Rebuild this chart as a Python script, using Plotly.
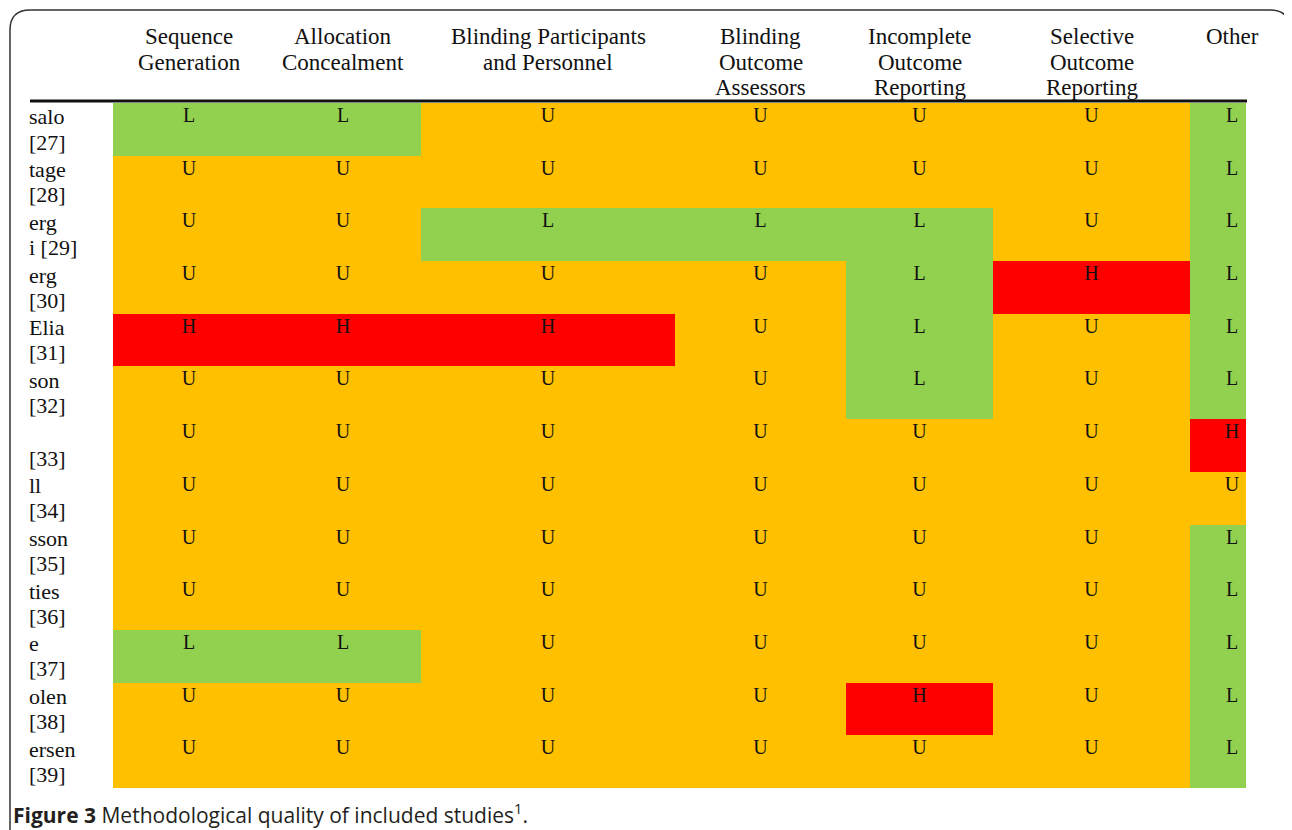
import numpy as np
import plotly.graph_objects as go

# ---- data ----
domains = [["Sequence", "Generation"], ["Allocation", "Concealment"],
           ["Blinding Participants", "and Personnel"],
           ["Blinding", "Outcome", "Assessors"], ["Incomplete", "Outcome", "Reporting"],
           ["Selective", "Outcome", "Reporting"], ["Other"]]
studies = [["salo", "[27]"], ["tage", "[28]"], ["erg", "i [29]"], ["erg", "[30]"], ["Elia", "[31]"],
           ["son", "[32]"], ["", "[33]"], ["ll", "[34]"], ["sson", "[35]"], ["ties", "[36]"],
           ["e", "[37]"], ["olen", "[38]"], ["ersen", "[39]"]]
ratings = [
    ["L", "L", "U", "U", "U", "U", "L"],
    ["U", "U", "U", "U", "U", "U", "L"],
    ["U", "U", "L", "L", "L", "U", "L"],
    ["U", "U", "U", "U", "L", "H", "L"],
    ["H", "H", "H", "U", "L", "U", "L"],
    ["U", "U", "U", "U", "L", "U", "L"],
    ["U", "U", "U", "U", "U", "U", "H"],
    ["U", "U", "U", "U", "U", "U", "U"],
    ["U", "U", "U", "U", "U", "U", "L"],
    ["U", "U", "U", "U", "U", "U", "L"],
    ["L", "L", "U", "U", "U", "U", "L"],
    ["U", "U", "U", "U", "H", "U", "L"],
    ["U", "U", "U", "U", "U", "U", "L"],
]
levels = {"L": 0, "U": 1, "H": 2}

# ---- layout/style ----
W, H = 1292, 830
OFF = 8  # page body margin
col_widths = [152, 156, 254, 171, 147, 197, 84]   # last column is cropped by the visible range
visible_width = 1133
edges = np.concatenate([[0], np.cumsum(col_widths)])
centers = (edges[:-1] + edges[1:]) / 2
green, orange, red = "#92D050", "#FFC000", "#FF0000"
x0_px, x1_px, y0_px, y1_px = 113, 1246, 103, 788
serif = "Liberation Serif"

px = lambda v: (v - OFF) / W
py = lambda v: 1 - (v - OFF) / H

z = [[levels[v] for v in row] for row in ratings]
nrows = len(studies)
row_h = (y1_px - y0_px) / nrows

fig = go.Figure()
fig.add_trace(go.Heatmap(
    z=z, x=edges, y=np.arange(nrows),
    colorscale=[[0, green], [1/3, green], [1/3, orange], [2/3, orange], [2/3, red], [1, red]],
    zmin=-0.5, zmax=2.5, showscale=False, hoverinfo="skip"))

tx, ty, tt = [], [], []
for i, row in enumerate(ratings):
    for j, v in enumerate(row):
        tx.append(centers[j]); ty.append(i - 0.5 + 14 / row_h); tt.append(v)
fig.add_trace(go.Scatter(x=tx, y=ty, text=tt, mode="text",
                         textfont=dict(family=serif, size=20, color="#111"),
                         hoverinfo="skip", showlegend=False, cliponaxis=False))

ann = []
for j, d in enumerate(domains):
    for k, line in enumerate(d):
        ann.append(dict(x=centers[j], xref="x", y=py(37 + 25.5 * k), yref="paper",
                        yanchor="middle", text=line, showarrow=False,
                        font=dict(family=serif, size=23, color="#111")))
for i, s in enumerate(studies):
    for k, line in enumerate(s):
        if not line:
            continue
        ann.append(dict(x=px(27), xref="paper", xanchor="left",
                        y=i - 0.5 + (14 + 25 * k) / row_h, yref="y", yanchor="middle",
                        text=line, showarrow=False,
                        font=dict(family=serif, size=22, color="#111")))
ann.append(dict(x=px(11), xref="paper", xanchor="left", y=py(813), yref="paper",
                yanchor="middle", showarrow=False,
                text="<b>Figure 3</b> Methodological quality of included studies<sup>1</sup>.",
                font=dict(family="Open Sans", size=21, color="#231f20")))

border = (f"M {px(10)},{py(845)} L {px(10)},{py(30)} Q {px(10)},{py(10)} {px(30)},{py(10)} "
          f"L {px(1270)},{py(10)} Q {px(1290)},{py(10)} {px(1290)},{py(30)} L {px(1290)},{py(845)}")
shapes = [
    dict(type="path", xref="paper", yref="paper", path=border,
         line=dict(color="#333", width=1.5)),
    dict(type="line", xref="paper", yref="paper", x0=px(30), x1=px(1247), y0=py(101), y1=py(101),
         line=dict(color="#111", width=3)),
]

fig.update_layout(
    width=W, height=H, margin=dict(l=0, r=0, t=0, b=0),
    paper_bgcolor="white", plot_bgcolor="white",
    xaxis=dict(domain=[px(x0_px), px(x1_px)], range=[0, visible_width],
               visible=False, fixedrange=True),
    yaxis=dict(domain=[py(y1_px), py(y0_px)], range=[nrows - 0.5, -0.5],
               visible=False, fixedrange=True),
    annotations=ann, shapes=shapes, showlegend=False,
)
fig.write_html("out.html")
